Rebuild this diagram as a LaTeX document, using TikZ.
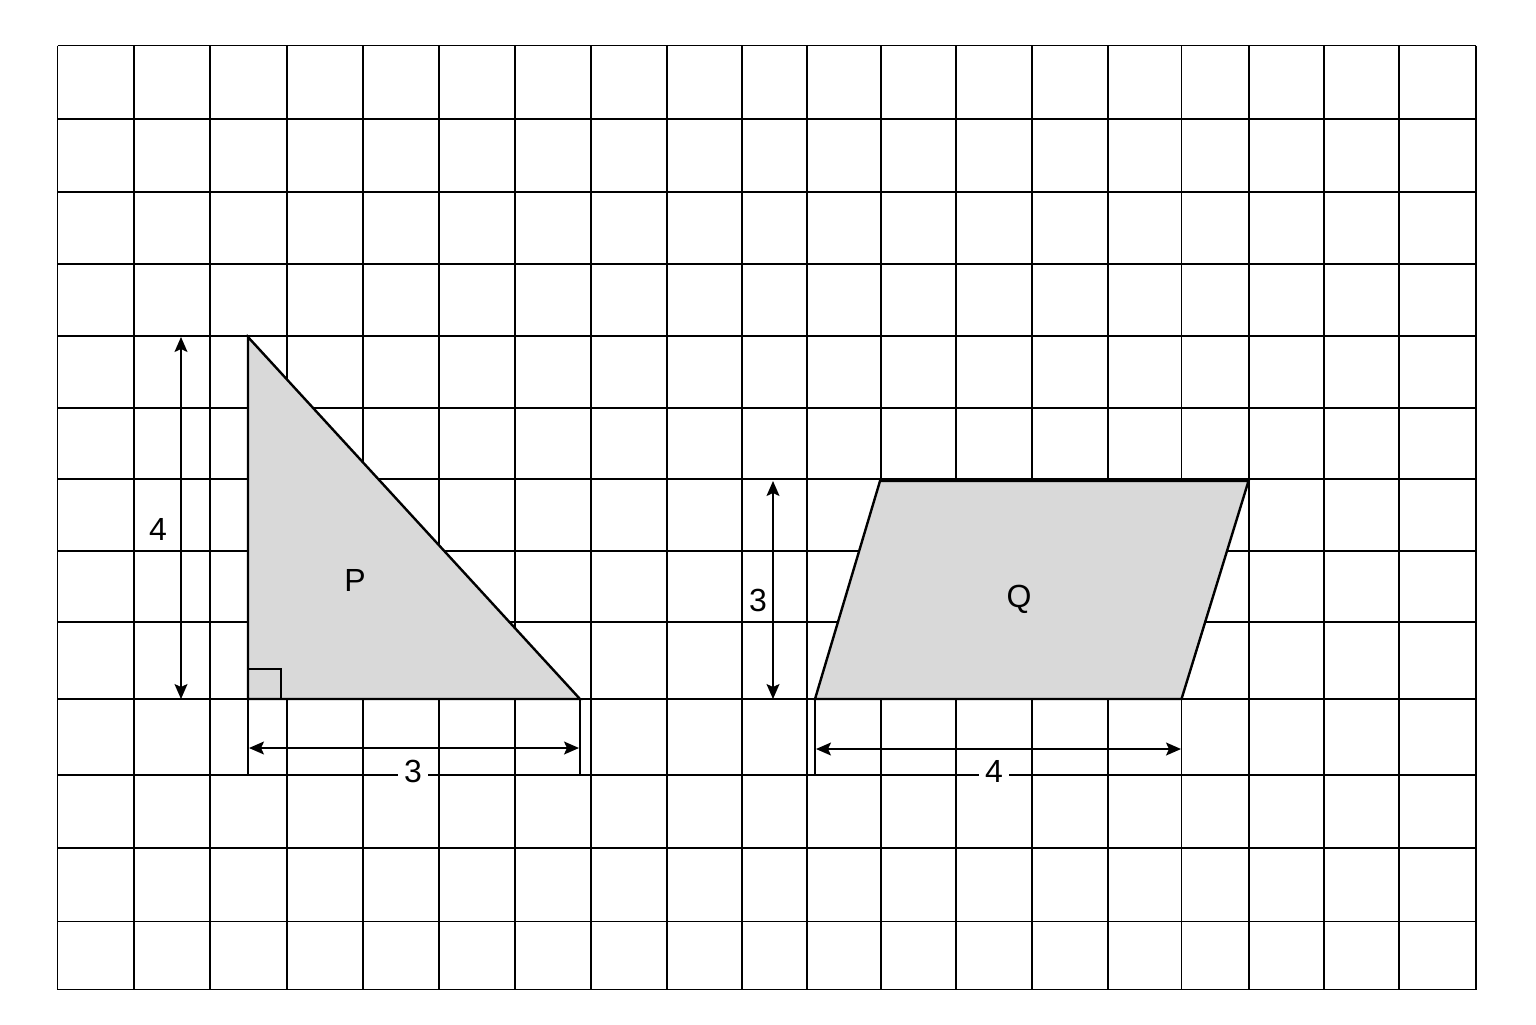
\documentclass[tikz,border=0pt]{standalone}
\usepackage{fontspec}
\setmainfont{Liberation Sans}
\usetikzlibrary{arrows.meta}
\begin{document}
\begin{tikzpicture}[x=0.5pt,y=-0.5pt,
  gridline/.style={line width=0.75pt,black},
  shapeline/.style={line width=1.2pt,black,fill=shapegray,line join=miter},
  dimline/.style={line width=0.75pt,black,{Stealth[length=7.5pt,width=6.5pt,inset=1.5pt]}-{Stealth[length=7.5pt,width=6.5pt,inset=1.5pt]}},
  extline/.style={line width=0.75pt,black},
  lbl/.style={font=\fontsize{16}{19}\selectfont,inner sep=1pt},
  cutlbl/.style={lbl,fill=white,inner xsep=3pt,inner ysep=0pt}]
\definecolor{shapegray}{HTML}{D9D9D9}
\useasboundingbox (0,0) rectangle (1536,1024);
\fill[white] (0,0) rectangle (1536,1024);
% grid
\foreach \gx in {57.5,134,210,287,363,439,515,591,667,742,807,881,956,1032,1108,1181.5,1249,1324,1399,1476}
  \draw[gridline] (\gx,45.5) -- (\gx,989.5);
\foreach \gy in {45.5,119,192,264,336,408,479,551,622,699,775,848,921.5,989.5}
  \draw[gridline] (57.5,\gy) -- (1476,\gy);
% triangle P
\coordinate (pa) at (248,337);
\coordinate (pb) at (248,699);
\coordinate (pc) at (580,699);
\draw[shapeline] (pa) -- (pb) -- (pc) -- cycle;
\coordinate (ra) at (248,669);
\coordinate (rb) at (281,669);
\coordinate (rc) at (281,699);
\draw[line width=1pt] (ra) -- (rb) -- (rc);
% parallelogram Q
\coordinate (qa) at (815,699);
\coordinate (qb) at (880,481);
\coordinate (qc) at (1248.5,481);
\coordinate (qd) at (1181.5,699);
\draw[shapeline] (qa) -- (qb) -- (qc) -- (qd) -- cycle;
% extension lines
\coordinate (pbx) at (248,775);
\coordinate (pcx) at (580,775);
\coordinate (qax) at (815,775);
\coordinate (qdx) at (1181.5,775);
\draw[extline] (pb) -- (pbx);
\draw[extline] (pc) -- (pcx);
\draw[extline] (qa) -- (qax);
\draw[extline] (qd) -- (qdx);
% dimension arrows
\coordinate (pv1) at (181,337);
\coordinate (pv2) at (181,699);
\draw[dimline] (pv1) -- (pv2);
\coordinate (ph1) at (249,748);
\coordinate (ph2) at (579,748);
\draw[dimline] (ph1) -- (ph2);
\coordinate (qv1) at (773,481);
\coordinate (qv2) at (773,699);
\draw[dimline] (qv1) -- (qv2);
\coordinate (qh1) at (816,749);
\coordinate (qh2) at (1181,749);
\draw[dimline] (qh1) -- (qh2);
% labels
\node[lbl] (lfour) at (158,529) {4};
\node[cutlbl] (lthree) at (413,771) {3};
\node[lbl] (lP) at (355,580) {P};
\node[lbl] (lthreeq) at (758,600) {3};
\node[cutlbl] (lfourq) at (994,771) {4};
\node[lbl] (lQ) at (1019,599) {Q};
\end{tikzpicture}
\end{document}
